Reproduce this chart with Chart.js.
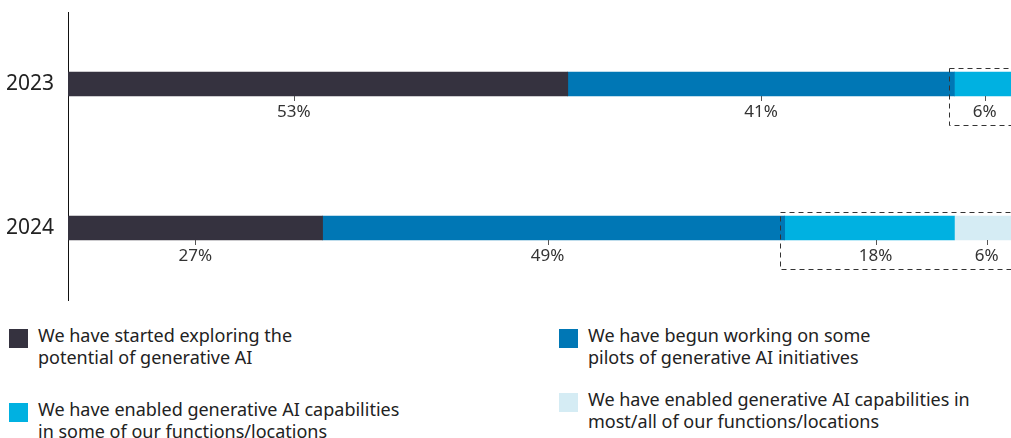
<!DOCTYPE html>
<html lang="en">
<head>
  <meta charset="UTF-8">
  <title>Generative AI adoption</title>
  <script src="https://cdn.jsdelivr.net/npm/chart.js"></script>
  <style>
    body { margin: 0; background: #fff; font-family: "Noto Sans", sans-serif; color: #222; }
    #wrap { position: relative; width: 1011px; height: 438px; overflow: hidden; }
    #chartBox { position: absolute; left: 0; top: 0; width: 1011px; height: 305px; }
    .item { position: absolute; font-size: 18px; line-height: 22px; }
    .item .sw { position: absolute; left: 0; top: 3px; width: 19px; height: 19px; }
    .item .tx { position: absolute; left: 29px; top: -2px; white-space: nowrap; }
  </style>
</head>
<body>
  <div id="wrap">
    <div id="chartBox"><canvas id="myChart"></canvas></div>
    <div id="legend"></div>
  </div>

  <script>
    const years = ['2023', '2024'];
    const exploring = [53, 27];
    const pilots = [41, 49];
    const someFunctions = [6, 18];
    const mostFunctions = [0, 6];

    const seriesNames = [
      ['We have started exploring the', 'potential of generative AI'],
      ['We have begun working on some', 'pilots of generative AI initiatives'],
      ['We have enabled generative AI capabilities', 'in some of our functions/locations'],
      ['We have enabled generative AI capabilities in', 'most/all of our functions/locations']
    ];
    const colors = ['#35323f', '#0077b5', '#00b1e1', '#d5ecf4'];

    // legend, laid out by hand like the original
    const legendPos = [[9, 326], [559, 326], [9, 400], [559, 390]];
    const legend = document.getElementById('legend');
    seriesNames.forEach((lines, i) => {
      const d = document.createElement('div');
      d.className = 'item';
      d.style.left = legendPos[i][0] + 'px';
      d.style.top = legendPos[i][1] + 'px';
      d.innerHTML = '<div class="sw" style="background:' + colors[i] + '"></div>' +
        '<div class="tx">' + lines.join('<br>') + '</div>';
      legend.appendChild(d);
    });

    // the original nudges a few labels off the segment centre
    const labelShift = { '0-0': -24, '1-1': -6, '2-1': 6, '3-1': 4, '2-0': 2 };

    // percent labels under each segment with a small tick, plus dashed boxes
    const segmentLabels = {
      id: 'segmentLabels',
      afterDatasetsDraw(chart) {
        const ctx = chart.ctx;
        ctx.save();
        ctx.font = '17px "Noto Sans", sans-serif';
        ctx.fillStyle = '#333';
        ctx.strokeStyle = '#555';
        ctx.lineWidth = 1;
        ctx.textAlign = 'center';
        ctx.textBaseline = 'middle';
        chart.data.datasets.forEach((ds, di) => {
          chart.getDatasetMeta(di).data.forEach((bar, i) => {
            const v = ds.data[i];
            if (!v) return;
            const cx = (bar.x + bar.base) / 2 + (labelShift[di + '-' + i] || 0);
            const bottom = bar.y + bar.height / 2;
            ctx.beginPath();
            ctx.moveTo(Math.round(cx) + 0.5, bottom);
            ctx.lineTo(Math.round(cx) + 0.5, bottom + 5);
            ctx.stroke();
            ctx.fillText(v + '%', cx, bottom + 16);
          });
        });

        // dashed frame round the "enabled" segments
        ctx.setLineDash([5, 4]);
        ctx.strokeStyle = '#333';
        years.forEach((y, i) => {
          const bar = chart.getDatasetMeta(2).data[i];
          const top = bar.y - bar.height / 2 - 4;
          const left = Math.round(bar.base - 5) + 0.5;
          const right = chart.width + 5;
          const bottom = bar.y + bar.height / 2 + 29;
          ctx.strokeRect(left, Math.round(top) + 0.5, right - left, Math.round(bottom - top));
        });
        ctx.restore();
      }
    };

    const ctx = document.getElementById('myChart').getContext('2d');
    const chart = new Chart(ctx, {
      type: 'bar',
      data: {
        labels: years,
        datasets: [exploring, pilots, someFunctions, mostFunctions].map((d, i) => ({
          label: seriesNames[i].join(' '),
          data: d,
          backgroundColor: colors[i],
          borderWidth: 0,
          barThickness: 24
        }))
      },
      options: {
        indexAxis: 'y',
        responsive: true,
        maintainAspectRatio: false,
        animation: false,
        layout: { padding: { top: 12, bottom: 5, right: 0, left: 0 } },
        plugins: { legend: { display: false }, tooltip: { enabled: false } },
        scales: {
          x: { stacked: true, min: 0, max: 100, display: false },
          y: {
            stacked: true,
            grid: { display: false },
            border: { display: true, color: '#111', width: 1 },
            ticks: { color: '#222', font: { size: 21, family: '"Noto Sans", sans-serif' }, padding: 6 },
            afterFit(scale) {
              scale.width = 68;
              scale.paddingTop = 0;
              scale.paddingBottom = 0;
            }
          }
        }
      },
      plugins: [segmentLabels]
    });
  </script>
</body>
</html>
